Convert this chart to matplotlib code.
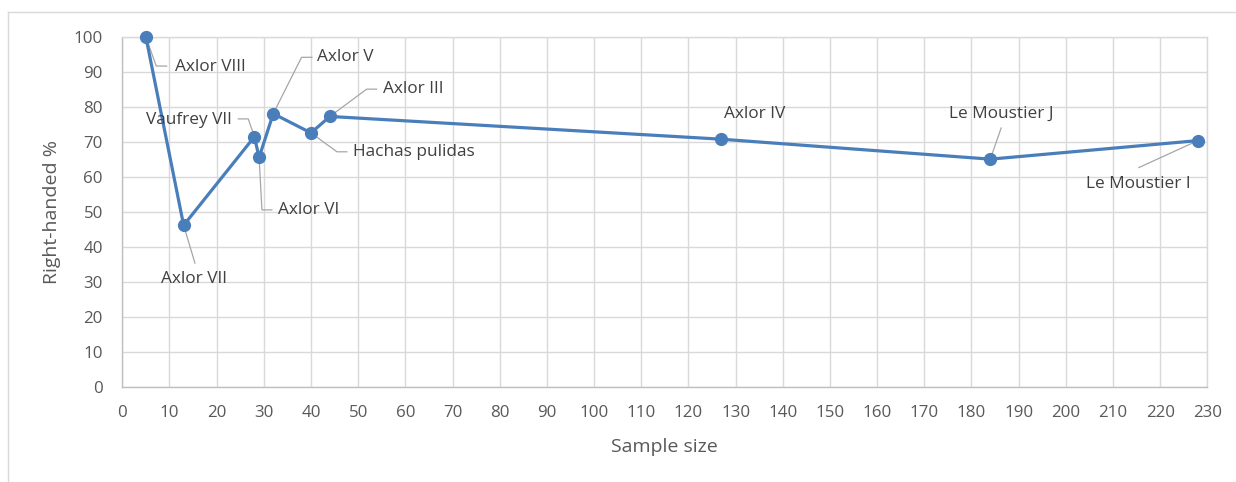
import matplotlib
matplotlib.use("Agg")
import matplotlib.pyplot as plt
from matplotlib.lines import Line2D

# -----------------------------
# Data
# -----------------------------
sites = ["Axlor VIII", "Axlor VII", "Vaufrey VII", "Axlor VI", "Axlor V",
         "Hachas pulidas", "Axlor III", "Axlor IV", "Le Moustier J", "Le Moustier I"]
sample_size = [5, 13, 28, 29, 32, 40, 44, 127, 184, 228]
right_handed = [100, 46.2, 71.5, 65.6, 78.1, 72.6, 77.3, 70.8, 65.1, 70.4]

# label anchor (text position) and leader-line elbow per site, in data units
label_xy = [(11.2, 91.5), (15.3, 30.9), (23.3, 76.4), (33.0, 50.6), (41.3, 94.2),
            (48.9, 67.2), (55.3, 85.1), (134.1, 77.9), (186.3, 78.1), (215.3, 57.9)]
label_ha = ["left", "center", "right", "left", "left",
            "left", "left", "center", "center", "center"]
leader_pts = [
    [(7.2, 91.7), (9.4, 91.7)],
    [(15.4, 35.4)],
    [(26.7, 76.6), (24.6, 76.6)],
    [(29.6, 50.6), (31.7, 50.6)],
    [(38.0, 94.2), (40.2, 94.2)],
    [(45.5, 67.2), (47.6, 67.2)],
    [(51.8, 85.1), (53.9, 85.1)],
    [],
    [(186.3, 74.0)],
    [(215.5, 62.7)],
]

x_ticks = list(range(0, 231, 10))
y_ticks = list(range(0, 101, 10))

LINE = "#4a7ebb"
GRID = "#d9d9d9"
TXT = "#595959"
LBL = "#404040"
FONT = "Open Sans"

plt.rcParams["font.family"] = [FONT, "DejaVu Sans"]

W, H = 1236, 482
fig = plt.figure(figsize=(W / 100, H / 100), dpi=100)
ax = fig.add_axes([122.3 / W, 1 - 387 / H, (1207.3 - 122.3) / W, 350 / H])

ax.set_xlim(0, 230)
ax.set_ylim(0, 100)
ax.set_xticks(x_ticks)
ax.set_yticks(y_ticks)
ax.grid(True, color=GRID, linewidth=1.0)
ax.set_axisbelow(True)
for side in ["top", "right"]:
    ax.spines[side].set_color(GRID)
    ax.spines[side].set_linewidth(1.0)
for side in ["left", "bottom"]:
    ax.spines[side].set_color("#bfbfbf")
    ax.spines[side].set_linewidth(1.0)
ax.tick_params(axis="both", length=0, labelsize=12.2, labelcolor=TXT)
ax.tick_params(axis="x", pad=13)
ax.tick_params(axis="y", pad=14)

ax.plot(sample_size, right_handed, color=LINE, linewidth=2.3, marker="o",
        markersize=8.5, markerfacecolor=LINE, markeredgecolor=LINE, zorder=3,
        clip_on=False)

# data labels with leader lines
for name, x, y, (tx, ty), ha, pts in zip(sites, sample_size, right_handed,
                                          label_xy, label_ha, leader_pts):
    if pts:
        xs = [x] + [p[0] for p in pts]
        ys = [y] + [p[1] for p in pts]
        ax.plot(xs, ys, color="#a6a6a6", linewidth=0.9, zorder=2)
    ax.text(tx, ty, name, ha=ha, va="center", fontsize=12.4, color=LBL, zorder=4)

ax.set_xlabel("Sample size", fontsize=14, color=TXT)
ax.xaxis.set_label_coords(0.5, (387 - 447) / 350)
ax.xaxis.label.set_va("center")
ax.set_ylabel("Right-handed %", fontsize=14, color=TXT)
ax.yaxis.set_label_coords((52 - 122.3) / 1085, 0.5)
ax.yaxis.label.set_va("center")

# chart area border (top and left edges visible in the reference)
fig.add_artist(Line2D([8 / W, 1], [1 - 12 / H, 1 - 12 / H], color=GRID, linewidth=1.0))
fig.add_artist(Line2D([8 / W, 8 / W], [1 - 12 / H, 0], color=GRID, linewidth=1.0))

fig.savefig("out.png", dpi=100)
